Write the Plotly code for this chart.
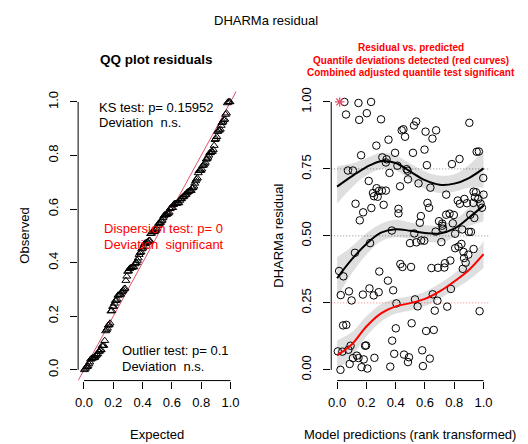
import plotly.graph_objects as go

# ---------------- data ----------------
# residuals vs predicted (rank transformed)
pred_x = [0.05, 0.146, 0.232, 0.061, 0.151, 0.203, 0.30, 0.54, 0.525, 0.441, 0.453, 0.464, 0.604, 0.676, 0.651,
          0.903, 0.351, 0.268, 0.597, 0.518, 0.396, 0.164, 0.309, 0.338, 0.333, 0.412, 0.475, 0.482, 0.358, 0.613,
          0.784, 0.836, 0.953, 0.968, 0.074, 0.108, 0.998, 0.216, 0.484, 0.556, 0.430, 0.637, 0.270, 0.245, 0.286,
          0.306, 0.333, 0.252, 0.277, 0.745, 0.932, 0.948, 1.0, 0.941, 0.824, 0.869, 0.838, 0.887, 0.930, 0.964,
          0.980, 0.126, 0.234, 0.318, 0.419, 0.419, 0.617, 0.628, 0.178, 0.572, 0.745, 0.768, 0.797, 0.910, 0.989,
          0.155, 0.696, 0.790, 0.937, 0.565, 0.718,
          0.374, 0.673, 0.718, 0.723, 0.806, 0.854, 0.899, 0.914, 0.527, 0.225, 0.498, 0.541, 0.574, 0.595, 0.712,
          0.849, 0.806, 0.829, 0.863, 0.932, 0.867, 0.896, 0.878, 0.122, 0.014, 0.043, 0.288, 0.432, 0.446, 0.505,
          0.644, 0.689, 0.732, 0.736, 0.773, 0.858, 0.347,
          0.081, 0.025, 0.099, 0.176, 0.221, 0.25, 0.284, 0.383, 0.405, 0.532, 0.550, 0.653, 0.685, 0.667, 0.752,
          0.777, 0.973, 0.041, 0.063, 0.401, 0.509, 0.608, 0.660, 0.092, 0.191, 0.198, 0.376, 0.005, 0.036, 0.077,
          0.108, 0.135, 0.146, 0.182, 0.255, 0.086, 0.167, 0.207, 0.023, 0.363, 0.390, 0.457, 0.491, 0.484, 0.581,
          0.633, 0.586]
resid_y = [1.0, 0.996, 1.0, 0.953, 0.933, 0.958, 0.935, 0.927, 0.912, 0.894, 0.898, 0.870, 0.889, 0.894, 0.863,
           0.922, 0.859, 0.837, 0.822, 0.810, 0.810, 0.801, 0.793, 0.786, 0.774, 0.762, 0.749, 0.743, 0.735, 0.764,
           0.768, 0.787, 0.814, 0.815, 0.744, 0.744, 0.716, 0.705, 0.711, 0.696, 0.685, 0.680, 0.678, 0.660, 0.668,
           0.669, 0.669, 0.648, 0.646, 0.654, 0.665, 0.663, 0.654, 0.644, 0.632, 0.638, 0.620, 0.622, 0.623, 0.638,
           0.620, 0.620, 0.604, 0.616, 0.601, 0.584, 0.623, 0.605, 0.588, 0.574, 0.579, 0.583, 0.578, 0.579, 0.605,
           0.558, 0.555, 0.547, 0.567, 0.549, 0.546,
           0.520, 0.516, 0.538, 0.527, 0.508, 0.524, 0.515, 0.515, 0.509, 0.473, 0.473, 0.476, 0.483, 0.482, 0.477,
           0.470, 0.454, 0.460, 0.440, 0.451, 0.417, 0.430, 0.400, 0.437, 0.369, 0.349, 0.367, 0.395, 0.384, 0.384,
           0.380, 0.381, 0.382, 0.398, 0.408, 0.377, 0.333,
           0.293, 0.279, 0.259, 0.281, 0.304, 0.278, 0.290, 0.297, 0.248, 0.263, 0.237, 0.282, 0.258, 0.221, 0.236,
           0.302, 0.219, 0.166, 0.168, 0.155, 0.174, 0.145, 0.149, 0.090, 0.090, 0.091, 0.109, 0.069, 0.068, 0.075,
           0.044, 0.053, 0.044, 0.039, 0.045, 0.022, 0.010, 0.005, 0.0, 0.012, 0.060, 0.057, 0.047, 0.029, 0.073,
           0.042, 0.014]
outlier_x = [0.018]
outlier_y = [1.0]

# quantile regression curves (value, lower, upper)
q_x = [0.0, 0.1, 0.2, 0.3, 0.4, 0.5, 0.6, 0.7, 0.8, 0.9, 1.0]
q75 = [0.684, 0.722, 0.757, 0.779, 0.772, 0.740, 0.708, 0.691, 0.695, 0.716, 0.752]
q75_lo = [0.620, 0.680, 0.725, 0.750, 0.745, 0.708, 0.675, 0.660, 0.665, 0.680, 0.680]
q75_hi = [0.760, 0.770, 0.790, 0.810, 0.800, 0.770, 0.740, 0.725, 0.730, 0.765, 0.820]
q50 = [0.342, 0.412, 0.470, 0.512, 0.525, 0.519, 0.511, 0.509, 0.527, 0.568, 0.613]
q50_lo = [0.270, 0.360, 0.430, 0.480, 0.495, 0.490, 0.480, 0.475, 0.495, 0.535, 0.555]
q50_hi = [0.420, 0.460, 0.510, 0.545, 0.560, 0.550, 0.540, 0.540, 0.560, 0.605, 0.670]
q25 = [0.055, 0.095, 0.162, 0.211, 0.237, 0.249, 0.265, 0.293, 0.330, 0.373, 0.432]
q25_lo = [0.000, 0.050, 0.125, 0.180, 0.210, 0.222, 0.238, 0.265, 0.300, 0.335, 0.380]
q25_hi = [0.110, 0.140, 0.200, 0.245, 0.265, 0.275, 0.292, 0.322, 0.360, 0.410, 0.480]
q_levels = [0.25, 0.5, 0.75]

tick01 = [0.0, 0.2, 0.4, 0.6, 0.8, 1.0]
tick01_text = ["0.0", "0.2", "0.4", "0.6", "0.8", "1.0"]
tickq = [0.0, 0.25, 0.5, 0.75, 1.0]
tickq_text = ["0.00", "0.25", "0.50", "0.75", "1.00"]

# QQ: observed sorted residuals vs expected uniform quantiles
obs_sorted = sorted(resid_y + outlier_y)
n = len(obs_sorted)
expected = [(i + 0.5) / n for i in range(n)]

# ---------------- figure ----------------
W, H = 528, 444
FONT = "Liberation Sans, Arial, sans-serif"
BLACK = "#000000"
RED = "#FF0000"
PINK = "#DF536B"
BAND = "rgba(0,0,0,0.125)"

fig = go.Figure()

# left: QQ plot
fig.add_trace(go.Scatter(x=[-0.05, 1.05], y=[-0.05, 1.05], mode="lines",
                         line=dict(color=PINK, width=1), xaxis="x", yaxis="y", hoverinfo="skip"))
fig.add_trace(go.Scatter(x=expected, y=obs_sorted, mode="markers",
                         marker=dict(symbol="triangle-up-open", size=7, color=BLACK, line=dict(width=1, color=BLACK)),
                         xaxis="x", yaxis="y"))

# right: residual vs predicted
fig.add_trace(go.Scatter(x=pred_x, y=resid_y, mode="markers",
                         marker=dict(symbol="circle-open", size=7.5, color=BLACK, line=dict(width=1, color=BLACK)),
                         xaxis="x2", yaxis="y2"))
fig.add_trace(go.Scatter(x=outlier_x, y=outlier_y, mode="markers",
                         marker=dict(symbol="asterisk-open", size=8, color=PINK, line=dict(width=1.2, color=PINK)),
                         xaxis="x2", yaxis="y2"))

for lo, hi in [(q75_lo, q75_hi), (q50_lo, q50_hi), (q25_lo, q25_hi)]:
    fig.add_trace(go.Scatter(x=q_x, y=lo, mode="lines", line=dict(width=0, shape="spline"),
                             xaxis="x2", yaxis="y2", hoverinfo="skip"))
    fig.add_trace(go.Scatter(x=q_x, y=hi, mode="lines", line=dict(width=0, shape="spline"),
                             fill="tonexty", fillcolor=BAND, xaxis="x2", yaxis="y2", hoverinfo="skip"))

for vals, col in [(q75, BLACK), (q50, BLACK), (q25, RED)]:
    fig.add_trace(go.Scatter(x=q_x, y=vals, mode="lines", line=dict(color=col, width=2, shape="spline"),
                             xaxis="x2", yaxis="y2", hoverinfo="skip"))

# axes
xl = [76 / W, 236 / W]
xr = [332 / W, 492 / W]
yd = [1 - 380 / H, 1 - 88 / H]
ax_common = dict(showgrid=False, zeroline=False, showline=False, ticks="outside", ticklen=7,
                 tickwidth=1, tickcolor=BLACK, tickfont=dict(family=FONT, size=13, color=BLACK),
                 range=[-0.04, 1.04], fixedrange=True)
fig.update_layout(
    xaxis=dict(domain=xl, anchor="y", tickvals=tick01, ticktext=tick01_text, ticklabelstandoff=3, **ax_common),
    yaxis=dict(domain=yd, anchor="x", tickvals=tick01, ticktext=tick01_text, tickangle=-90,
               ticklabelstandoff=7, **ax_common),
    xaxis2=dict(domain=xr, anchor="y2", tickvals=tick01, ticktext=tick01_text, ticklabelstandoff=3, **ax_common),
    yaxis2=dict(domain=yd, anchor="x2", tickvals=tickq, ticktext=tickq_text, tickangle=-90,
                ticklabelstandoff=7, **ax_common),
)

shapes = []
for xa, ya in [("x", "y"), ("x2", "y2")]:
    shapes.append(dict(type="line", xref=xa, yref=ya + " domain", x0=0, x1=1, y0=0, y1=0,
                       line=dict(color=BLACK, width=1)))
    shapes.append(dict(type="line", xref=xa + " domain", yref=ya, x0=0, x1=0, y0=0, y1=1,
                       line=dict(color=BLACK, width=1)))
for lev in q_levels:
    col = "rgba(255,0,0,0.5)" if lev == 0.25 else "#8c8c8c"
    shapes.append(dict(type="line", xref="x2 domain", yref="y2", x0=0, x1=1, y0=lev, y1=lev,
                       line=dict(color=col, width=1, dash="1px,2px"), layer="below"))
fig.update_layout(shapes=shapes)


def ann(text, px, py, size=13, color=BLACK, xanchor="center", angle=0, bold=False):
    t = "<b>%s</b>" % text if bold else text
    return dict(text=t, x=px / W, y=1 - py / H, xref="paper", yref="paper", showarrow=False,
                xanchor=xanchor, yanchor="middle", textangle=angle,
                font=dict(family=FONT, size=size, color=color))


NB = "\u00a0"
annotations = [
    ann("DHARMa residual", 266, 16.5),
    ann("QQ plot residuals", 155, 56, size=13.5, bold=True),
    ann("Residual vs. predicted", 412.5, 43.7, size=10, color=RED, bold=True),
    ann("Quantile deviations detected (red curves)", 412.5, 56.7, size=10, color=RED, bold=True),
    ann("Combined adjusted quantile test significant", 412.5, 69.3, size=10, color=RED, bold=True),
    ann("KS test: p= 0.15952", 95, 104.3, xanchor="left"),
    ann("Deviation" + NB + " n.s.", 95, 119.3, xanchor="left"),
    ann("Dispersion test: p= 0", 100, 227, color=RED, xanchor="left"),
    ann("Deviation" + NB + " significant", 100, 242.7, color=RED, xanchor="left"),
    ann("Outlier test: p= 0.1", 118.5, 349.7, xanchor="left"),
    ann("Deviation" + NB + " n.s.", 118.5, 365.3, xanchor="left"),
    ann("Expected", 156, 434.7),
    ann("Model predictions (rank transformed)", 412, 434.7),
    ann("Observed", 22, 234, angle=-90),
    ann("DHARMa residual", 279, 234, angle=-90),
]
fig.update_layout(annotations=annotations)

fig.update_layout(width=W, height=H, margin=dict(l=0, r=0, t=0, b=0), showlegend=False,
                  paper_bgcolor="white", plot_bgcolor="white", font=dict(family=FONT, color=BLACK))

fig.write_html("out.html")
